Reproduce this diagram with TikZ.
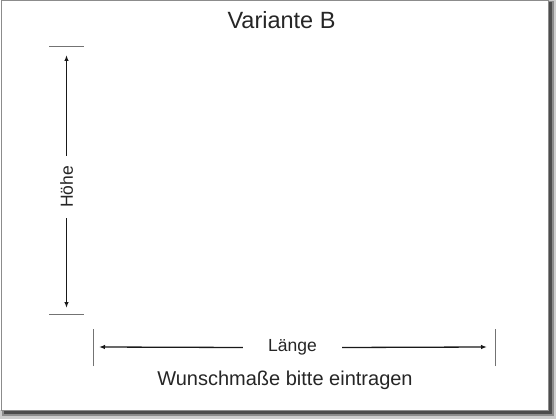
\documentclass[tikz,border=0pt]{standalone}
\usepackage{fontspec}
\setmainfont{Liberation Sans}
\usetikzlibrary{arrows.meta}

\begin{document}
\begin{tikzpicture}[x=1pt, y=-1pt, dim/.style={-{Latex[length=6pt,width=4.5pt]}, line width=1.3pt, draw=black!90}, tick/.style={draw=black!55, line width=1pt}, lbl/.style={font=\fontsize{17.5}{17.5}\selectfont, text=black!85}]
		\useasboundingbox[fill=white] (0,0) rectangle (560,420);
		% shadow
		\fill[black!20] (0,410) rectangle (556,419);
		\fill[black!20] (548,0) rectangle (556,419);
		\fill[black!45] (2,410) rectangle (554,416);
		\fill[black!45] (548,1) rectangle (554,416);
		\fill[black!70] (4,410) rectangle (552,414);
		\fill[black!70] (548,2) rectangle (552,414);
		\draw[draw=black!45, fill=white, line width=1pt] (1,1) rectangle (548,410);

		\node[font=\fontsize{23.5}{23.5}\selectfont, text=black!85, anchor=base] (title) at (281.5,29) {Variante B};

		\coordinate (h_tick_top) at (66.5,47);
		\coordinate (h_tick_bot) at (66.5,314);
		\coordinate (h_tip_top) at (66.5,55);
		\coordinate (h_tip_bot) at (66.5,308);
		\node[lbl, rotate=90, inner xsep=10pt] (hoehe) at (66.5,187) {Höhe};

		\coordinate (l_tick_left) at (93,347);
		\coordinate (l_tick_right) at (495,347);
		\coordinate (l_tip_left) at (99,347);
		\coordinate (l_tip_right) at (487,347);
		\node[lbl, inner xsep=25pt] (laenge) at (292.5,347.5) {Länge};

		\node[font=\fontsize{20}{20}\selectfont, text=black!85, anchor=base] (hint) at (285,385) {Wunschmaße bitte eintragen};

		\draw[tick] ([xshift=-17.5pt]h_tick_top) -- ([xshift=17.5pt]h_tick_top);
		\draw[tick] ([xshift=-17.5pt]h_tick_bot) -- ([xshift=17.5pt]h_tick_bot);
		\draw[tick] ([yshift=-19pt]l_tick_left) -- ([yshift=18pt]l_tick_left);
		\draw[tick] ([yshift=-19pt]l_tick_right) -- ([yshift=18pt]l_tick_right);

		\draw[dim] (hoehe.east) -- (h_tip_top);
		\draw[dim] (hoehe.west) -- (h_tip_bot);
		\draw[dim] (laenge.west) -- (l_tip_left);
		\draw[dim] (laenge.east) -- (l_tip_right);
	\end{tikzpicture}
\end{document}
